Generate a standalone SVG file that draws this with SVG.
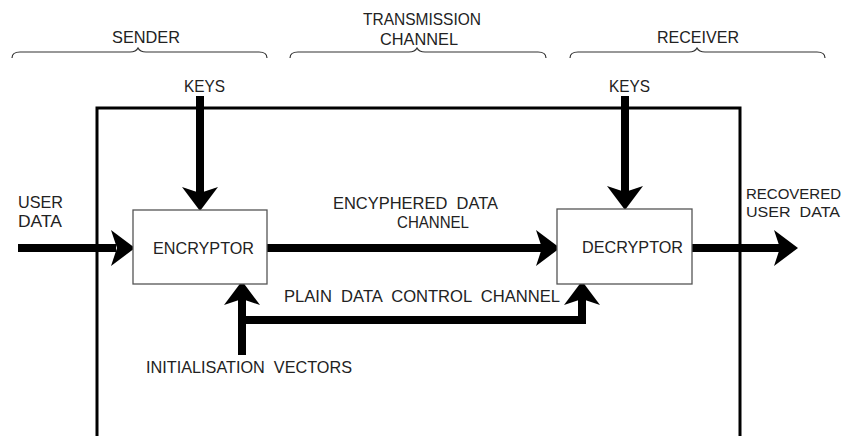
<svg xmlns="http://www.w3.org/2000/svg" width="847" height="436" viewBox="0 0 847 436">
<defs>
<style>
text{font-family:"Liberation Sans",Arial,sans-serif;font-size:16.5px;fill:#222;white-space:pre}
.brace{fill:none;stroke:#333;stroke-width:1.2}
.box{fill:#fff;stroke:#555;stroke-width:1.3}
.wire{fill:none;stroke:#000;stroke-width:8;stroke-linejoin:miter}
.frame{fill:none;stroke:#000;stroke-width:3}
.head{fill:#000}
.edge{font-size:15.5px}
</style>
<path id="ah" d="M0,0 L-24,-18 L-18,0 L-24,18 Z"/>
</defs>
<rect width="847" height="436" fill="#fff"/>
<g id="braces">
<path class="brace" d="M12,58 Q12,52 20,52 H130 Q136,52 138,48 Q140,52 146,52 H259 Q267,52 267,58"/>
<text x="112" y="43" textLength="68" lengthAdjust="spacingAndGlyphs">SENDER</text>
<path class="brace" d="M290,58 Q290,52 298,52 H409 Q415,52 417,48 Q419,52 425,52 H538 Q546,52 546,58"/>
<text x="363" y="25" textLength="118" lengthAdjust="spacingAndGlyphs">TRANSMISSION</text>
<text x="380" y="45" textLength="78" lengthAdjust="spacingAndGlyphs">CHANNEL</text>
<path class="brace" d="M570,58 Q570,52 578,52 H689 Q695,52 697,48 Q699,52 705,52 H817 Q825,52 825,58"/>
<text x="657" y="43" textLength="82" lengthAdjust="spacingAndGlyphs">RECEIVER</text>
</g>
<path id="frame" class="frame" d="M97,440 V108 H740 V440"/>
<g id="connectors">
<path class="wire" d="M18,248 H116"/>
<use href="#ah" class="head" transform="translate(135,248)"/>
<path class="wire" d="M267,248 H542"/>
<use href="#ah" class="head" transform="translate(560,248)"/>
<path class="wire" d="M692,248 H780"/>
<use href="#ah" class="head" transform="translate(798,248)"/>
<path class="wire" d="M200,96 V194"/>
<use href="#ah" class="head" transform="translate(200,211) rotate(90)"/>
<path class="wire" d="M625,96 V193"/>
<use href="#ah" class="head" transform="translate(625,210) rotate(90)"/>
<path class="wire" d="M242,355 V298"/>
<path class="wire" d="M242,320 H582 V298"/>
<use href="#ah" class="head" transform="translate(242,281) rotate(-90)"/>
<use href="#ah" class="head" transform="translate(582,281) rotate(-90)"/>
</g>
<g id="encryptor">
<rect class="box" x="133" y="210" width="134" height="74"/>
<text x="153" y="254" textLength="101" lengthAdjust="spacingAndGlyphs">ENCRYPTOR</text>
</g>
<g id="decryptor">
<rect class="box" x="557" y="209" width="135" height="75"/>
<text x="582" y="253" textLength="101" lengthAdjust="spacingAndGlyphs">DECRYPTOR</text>
</g>
<g id="labels" xml:space="preserve">
<text x="184" y="92" textLength="41" lengthAdjust="spacingAndGlyphs">KEYS</text>
<text x="609" y="92" textLength="41" lengthAdjust="spacingAndGlyphs">KEYS</text>
<text x="18" y="208" textLength="45" lengthAdjust="spacingAndGlyphs">USER</text>
<text x="18" y="227" textLength="44" lengthAdjust="spacingAndGlyphs">DATA</text>
<text class="edge" x="746" y="199" textLength="95" lengthAdjust="spacingAndGlyphs">RECOVERED</text>
<text class="edge" x="746" y="217" textLength="94" lengthAdjust="spacingAndGlyphs">USER  DATA</text>
<text x="333" y="209" textLength="165" lengthAdjust="spacingAndGlyphs">ENCYPHERED  DATA</text>
<text x="397" y="228" textLength="72" lengthAdjust="spacingAndGlyphs">CHANNEL</text>
<text x="284" y="302" textLength="276" lengthAdjust="spacingAndGlyphs">PLAIN  DATA  CONTROL  CHANNEL</text>
<text x="146" y="373" textLength="206" lengthAdjust="spacingAndGlyphs">INITIALISATION  VECTORS</text>
</g>
</svg>
